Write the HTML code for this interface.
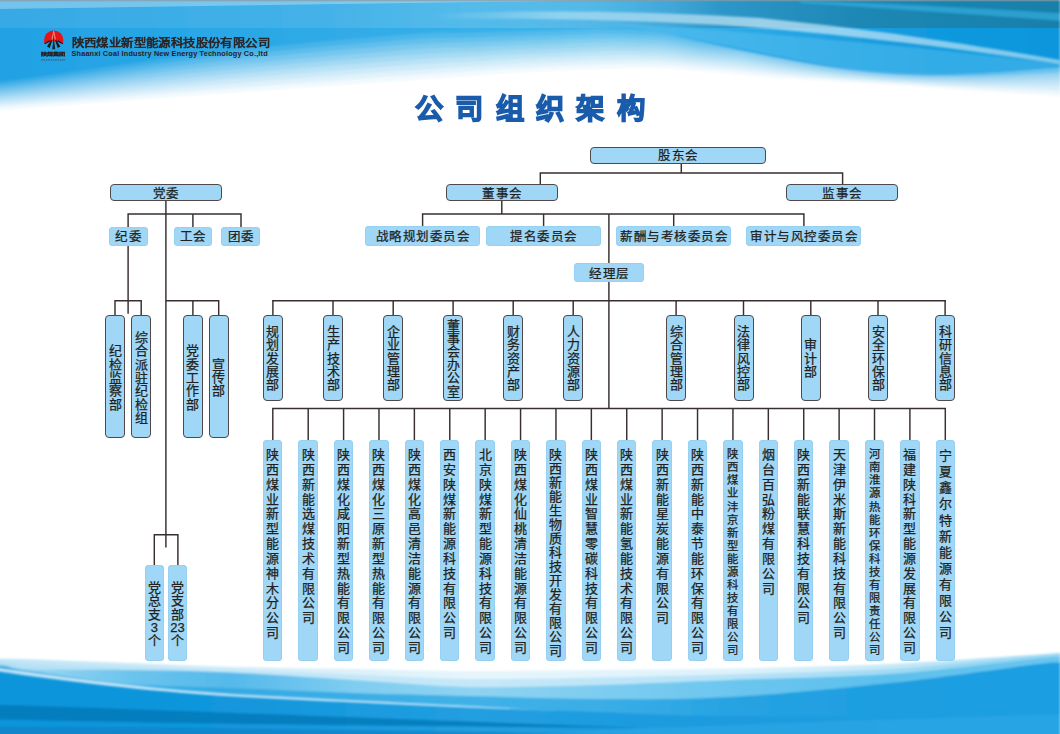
<!DOCTYPE html>
<html lang="zh-CN"><head><meta charset="utf-8"><title>公司组织架构</title>
<style>
html,body{margin:0;padding:0}
body{width:1060px;height:734px;position:relative;overflow:hidden;background:#fff;font-family:"Liberation Sans",sans-serif;color:#231f20}
.bg,.ln{position:absolute;left:0;top:0}
.bx{position:absolute;box-sizing:border-box;background:#a0d7f6;border-radius:4px;text-align:center;white-space:nowrap;overflow:hidden;box-shadow:inset 0 0 0 0.8px #93cff1}
.bx.b{box-shadow:none;border:1.5px solid #514949}
.bx i{font-style:normal;text-align:center;-webkit-text-stroke:0.25px #231f20}
.bx.v{white-space:normal}
.bx.v>div{line-height:0}
.bx.v i{display:inline-block;width:100%;vertical-align:top;overflow:hidden}
.bx.h i{display:inline-block;width:13.5px;vertical-align:top;position:relative;top:1.6px}
.bx.v.b>div{margin-top:-1.5px}
.bx.h.b{line-height:14.4px !important}
.title{position:absolute;left:0;top:91.5px;width:1060px;height:36px;line-height:36px;text-align:center;font-size:28px;color:#1a5cab;-webkit-text-stroke:2.3px #1a5cab;paint-order:stroke fill;white-space:nowrap;transform:scale(1.012,1)}
.title i{display:inline-block;width:39.8px;font-style:normal;text-align:center}
.cn{position:absolute;left:71.3px;top:34.9px;font-size:12.4px;-webkit-text-stroke:0.65px #2a2222;line-height:16px;color:#2a2222;white-space:nowrap;transform:scale(1,0.9);transform-origin:0 8.5px}
.cn i{display:inline-block;width:12.42px;font-style:normal;text-align:center}
.lg{position:absolute;left:41.2px;top:49.2px;width:49.2px;height:12px;line-height:12px;font-size:12.3px;letter-spacing:0;-webkit-text-stroke:1.3px #2a2222;color:#2a2222;white-space:nowrap;transform:scale(0.5,0.34);transform-origin:0 6px}
.en{position:absolute;left:71.5px;top:49px;font-size:7.3px;font-weight:bold;letter-spacing:0.17px;line-height:10px;color:#2a2222;white-space:nowrap}
</style></head><body>
<svg class="bg" width="1060" height="734" viewBox="0 0 1060 734">
<defs>
<filter id="f1" x="-5%" y="-20%" width="110%" height="140%"><feGaussianBlur stdDeviation="1"/></filter>
<linearGradient id="tD" gradientUnits="userSpaceOnUse" x1="0" y1="0" x2="1060" y2="0"><stop offset="0" stop-color="#22a2e4"/><stop offset="0.235849" stop-color="#2ba8e6"/><stop offset="0.424528" stop-color="#36afe8"/><stop offset="0.566038" stop-color="#40b4ea"/><stop offset="0.660377" stop-color="#34ade8"/><stop offset="0.735849" stop-color="#27a6e4"/><stop offset="0.849057" stop-color="#139ade"/><stop offset="1" stop-color="#0b96dc"/></linearGradient>
<linearGradient id="tT" gradientUnits="userSpaceOnUse" x1="0" y1="0" x2="1060" y2="0"><stop offset="0" stop-color="#c4dde9" stop-opacity="0.13"/><stop offset="0.311321" stop-color="#c9e2ee" stop-opacity="0.14"/><stop offset="0.424528" stop-color="#d5ecf3" stop-opacity="0.18"/><stop offset="0.528302" stop-color="#a9d3e2" stop-opacity="0.22"/><stop offset="0.603774" stop-color="#5fa9c9" stop-opacity="0.32"/><stop offset="0.679245" stop-color="#2a8ab5" stop-opacity="0.62"/><stop offset="0.801887" stop-color="#1f83ab" stop-opacity="0.8"/><stop offset="1" stop-color="#197ca3" stop-opacity="0.88"/></linearGradient>
<linearGradient id="bA" gradientUnits="userSpaceOnUse" x1="0" y1="0" x2="1060" y2="0"><stop offset="0" stop-color="#c0e5f7"/><stop offset="0.216981" stop-color="#d3ecf9"/><stop offset="0.443396" stop-color="#e6f5fc"/><stop offset="0.688679" stop-color="#def2fb"/><stop offset="0.839623" stop-color="#c5e8f8"/><stop offset="1" stop-color="#a5dcf5"/></linearGradient>
<linearGradient id="bAm" gradientUnits="userSpaceOnUse" x1="0" y1="0" x2="1060" y2="0"><stop offset="0" stop-color="#b4e0f5"/><stop offset="0.216981" stop-color="#c2e6f8"/><stop offset="0.443396" stop-color="#c5e8f8"/><stop offset="0.688679" stop-color="#b8e3f7"/><stop offset="0.839623" stop-color="#a0daf5"/><stop offset="1" stop-color="#8dd2f3"/></linearGradient>
<linearGradient id="bB" gradientUnits="userSpaceOnUse" x1="0" y1="0" x2="1060" y2="0"><stop offset="0" stop-color="#a8dcf4"/><stop offset="0.122642" stop-color="#6cc4ed"/><stop offset="0.216981" stop-color="#55b9ea"/><stop offset="0.333962" stop-color="#7fcdf1"/><stop offset="0.443396" stop-color="#8fd3f2"/><stop offset="0.688679" stop-color="#6cc6ef"/><stop offset="0.839623" stop-color="#5cc0ec"/><stop offset="1" stop-color="#6cc6ef"/></linearGradient>
<linearGradient id="bC" gradientUnits="userSpaceOnUse" x1="0" y1="0" x2="1060" y2="0"><stop offset="0" stop-color="#35aae4"/><stop offset="0.216981" stop-color="#35aae4"/><stop offset="0.443396" stop-color="#40b1e7"/><stop offset="0.566038" stop-color="#3aaee6"/><stop offset="0.688679" stop-color="#27a3e2"/><stop offset="0.839623" stop-color="#1d9ee1"/><stop offset="1" stop-color="#1a9ee2"/></linearGradient>
<linearGradient id="bD" gradientUnits="userSpaceOnUse" x1="0" y1="0" x2="1060" y2="0"><stop offset="0" stop-color="#0f95db"/><stop offset="0.216981" stop-color="#1296dc"/><stop offset="0.443396" stop-color="#229fe1"/><stop offset="0.688679" stop-color="#1a9bdf"/><stop offset="0.839623" stop-color="#1c9ee1"/><stop offset="1" stop-color="#1a9ee2"/></linearGradient>
<linearGradient id="tS" gradientUnits="userSpaceOnUse" x1="0" y1="0" x2="1060" y2="0"><stop offset="0.40566" stop-color="#d6eef9" stop-opacity="0"/><stop offset="0.528302" stop-color="#d6eef9" stop-opacity="0.45"/><stop offset="0.716981" stop-color="#cdeaf8" stop-opacity="0.7"/><stop offset="1" stop-color="#cdeaf8" stop-opacity="0.6"/></linearGradient>
<linearGradient id="tW" gradientUnits="userSpaceOnUse" x1="0" y1="0" x2="1060" y2="0"><stop offset="0.603774" stop-color="#ffffff" stop-opacity="0"/><stop offset="0.698113" stop-color="#ffffff" stop-opacity="0.42"/><stop offset="1" stop-color="#ffffff" stop-opacity="0.48"/></linearGradient>
</defs>
<g filter="url(#f1)">
<path d="M-5 -5H1065L1065 97C1064.2 97.0 1075.3 98.0 1060 97C1044.7 96.0 998.7 92.8 973 91C947.3 89.2 928.3 87.5 906 86C883.7 84.5 861.2 83.3 839 82C816.8 80.7 795.2 79.7 773 78C750.8 76.3 728.2 73.7 706 72C683.8 70.3 669.3 68.0 640 68C610.7 68.0 558.3 70.7 530 72C501.7 73.3 491.7 74.5 470 76C448.3 77.5 445.0 77.8 400 81C355.0 84.2 266.7 90.2 200 95C133.3 99.8 34.2 107.5 0 110C-34.2 112.5 -4.2 110.0 -5 110Z" fill="url(#tD)"/>
<path d="M-5 83C33.3 78.2 133.3 62.5 200 54.5C266.7 46.5 355.0 38.7 400 35.1C445.0 31.5 448.3 33.4 470 32.8C491.7 32.2 501.7 31.9 530 31.5C558.3 31.1 610.7 27.8 640 30.2C669.3 32.6 683.8 41.1 706 45.9C728.2 50.7 750.8 55.2 773 59.1C795.2 63.0 816.8 66.7 839 69.4C861.2 72.1 883.7 74.2 906 75.2C928.3 76.2 947.3 76.4 973 75.7C998.7 75.0 1045.5 71.7 1060 70.9L1065 70.9 V130 H-5Z" fill="#fff" fill-opacity="0.119"/>
<path d="M-5 86C33.3 81.5 133.3 66.6 200 59C266.7 51.4 355.0 43.8 400 40.2C445.0 36.6 448.3 38.3 470 37.6C491.7 36.9 501.7 36.5 530 36C558.3 35.5 610.7 32.3 640 34.4C669.3 36.5 683.8 44.3 706 48.8C728.2 53.3 750.8 57.5 773 61.2C795.2 64.9 816.8 68.3 839 70.8C861.2 73.3 883.7 75.3 906 76.4C928.3 77.5 947.3 77.8 973 77.4C998.7 77.0 1045.5 74.4 1060 73.8L1065 73.8 V130 H-5Z" fill="#fff" fill-opacity="0.132"/>
<path d="M-5 89C33.3 84.8 133.3 70.8 200 63.5C266.7 56.2 355.0 48.8 400 45.3C445.0 41.8 448.3 43.2 470 42.4C491.7 41.6 501.7 41.1 530 40.5C558.3 39.9 610.7 36.7 640 38.6C669.3 40.5 683.8 47.6 706 51.7C728.2 55.8 750.8 59.9 773 63.3C795.2 66.7 816.8 69.8 839 72.2C861.2 74.6 883.7 76.4 906 77.6C928.3 78.8 947.3 79.2 973 79.1C998.7 78.9 1045.5 77.1 1060 76.7L1065 76.7 V130 H-5Z" fill="#fff" fill-opacity="0.148"/>
<path d="M-5 92C33.3 88.0 133.3 74.9 200 68C266.7 61.1 355.0 53.9 400 50.4C445.0 46.9 448.3 48.1 470 47.2C491.7 46.3 501.7 45.7 530 45C558.3 44.3 610.7 41.2 640 42.8C669.3 44.4 683.8 50.8 706 54.6C728.2 58.4 750.8 62.2 773 65.4C795.2 68.6 816.8 71.4 839 73.6C861.2 75.8 883.7 77.6 906 78.8C928.3 80.0 947.3 80.7 973 80.8C998.7 80.9 1045.5 79.8 1060 79.6L1065 79.6 V130 H-5Z" fill="#fff" fill-opacity="0.169"/>
<path d="M-5 95C33.3 91.2 133.3 79.1 200 72.5C266.7 65.9 355.0 58.9 400 55.5C445.0 52.1 448.3 53.0 470 52C491.7 51.0 501.7 50.3 530 49.5C558.3 48.7 610.7 45.7 640 47C669.3 48.3 683.8 54.1 706 57.5C728.2 60.9 750.8 64.6 773 67.5C795.2 70.4 816.8 72.9 839 75C861.2 77.1 883.7 78.8 906 80C928.3 81.2 947.3 82.1 973 82.5C998.7 82.9 1045.5 82.5 1060 82.5L1065 82.5 V130 H-5Z" fill="#fff" fill-opacity="0.197"/>
<path d="M-5 98C33.3 94.5 133.3 83.2 200 77C266.7 70.8 355.0 64.0 400 60.6C445.0 57.2 448.3 57.9 470 56.8C491.7 55.7 501.7 54.9 530 54C558.3 53.1 610.7 50.1 640 51.2C669.3 52.3 683.8 57.3 706 60.4C728.2 63.5 750.8 66.9 773 69.6C795.2 72.3 816.8 74.5 839 76.4C861.2 78.3 883.7 79.9 906 81.2C928.3 82.5 947.3 83.5 973 84.2C998.7 84.9 1045.5 85.2 1060 85.4L1065 85.4 V130 H-5Z" fill="#fff" fill-opacity="0.235"/>
<path d="M-5 101C33.3 97.8 133.3 87.4 200 81.5C266.7 75.6 355.0 69.0 400 65.7C445.0 62.4 448.3 62.8 470 61.6C491.7 60.4 501.7 59.5 530 58.5C558.3 57.5 610.7 54.6 640 55.4C669.3 56.2 683.8 60.6 706 63.3C728.2 66.0 750.8 69.3 773 71.7C795.2 74.1 816.8 76.0 839 77.8C861.2 79.6 883.7 81.1 906 82.4C928.3 83.8 947.3 84.9 973 85.9C998.7 86.9 1045.5 87.9 1060 88.3L1065 88.3 V130 H-5Z" fill="#fff" fill-opacity="0.292"/>
<path d="M-5 104C33.3 101.0 133.3 91.5 200 86C266.7 80.5 355.0 74.1 400 70.8C445.0 67.5 448.3 67.7 470 66.4C491.7 65.1 501.7 64.1 530 63C558.3 61.9 610.7 59.1 640 59.6C669.3 60.1 683.8 63.8 706 66.2C728.2 68.6 750.8 71.6 773 73.8C795.2 76.0 816.8 77.6 839 79.2C861.2 80.8 883.7 82.2 906 83.6C928.3 85.0 947.3 86.3 973 87.6C998.7 88.9 1045.5 90.6 1060 91.2L1065 91.2 V130 H-5Z" fill="#fff" fill-opacity="0.385"/>
<path d="M-5 107C33.3 104.2 133.3 95.7 200 90.5C266.7 85.3 355.0 79.1 400 75.9C445.0 72.7 448.3 72.6 470 71.2C491.7 69.8 501.7 68.7 530 67.5C558.3 66.3 610.7 63.5 640 63.8C669.3 64.1 683.8 67.1 706 69.1C728.2 71.1 750.8 74.0 773 75.9C795.2 77.8 816.8 79.1 839 80.6C861.2 82.1 883.7 83.3 906 84.8C928.3 86.2 947.3 87.8 973 89.3C998.7 90.8 1045.5 93.3 1060 94.1L1065 94.1 V130 H-5Z" fill="#fff" fill-opacity="0.565"/>
<path d="M640 26C651.0 28.8 683.8 37.8 706 43C728.2 48.2 750.8 52.8 773 57C795.2 61.2 816.8 65.2 839 68C861.2 70.8 883.7 73.0 906 74C928.3 75.0 947.3 75.0 973 74C998.7 73.0 1040.5 69.3 1060 68C1079.5 66.7 1085.0 66.3 1090 66V130H640Z" fill="url(#tW)"/>
</g>
<rect x="0" y="0" width="1060" height="28" fill="url(#tT)"/>
<path d="M0 0H620L0 9Z" fill="#fff" fill-opacity="0.30"/>
<rect x="0" y="0" width="1060" height="1.3" fill="#8a9aa3" fill-opacity="0.7"/>
<g filter="url(#f1)">
<path d="M590 22 C700 28 800 36 940 50 L1090 67 L1090 70 C1000 77 930 77 870 72 C810 64 760 52 700 40 C660 32 630 26 590 22Z" fill="#58c0f0" fill-opacity="0.5"/>
<path d="M430 14 C560 8 700 14 760 18 C880 30 980 46 1060 60 L1060 64 C980 52 880 38 760 28 C660 20 540 18 430 19Z" fill="url(#tS)"/>
<path d="M800 1 C880 3 980 8 1090 15 L1090 23 C980 15 880 8 800 3Z" fill="#36b4e6" fill-opacity="0.6"/>
</g>
<g filter="url(#f1)">
<path d="M1090 760H-30L-30 658.7C-25.0 658.7 -10.0 658.6 0 658.7C10.0 658.8 8.3 658.6 30 659.3C51.7 660.0 96.7 661.8 130 663C163.3 664.2 192.7 665.7 230 666.7C267.3 667.7 314.0 668.3 354 669C394.0 669.7 429.0 670.8 470 671C511.0 671.2 556.7 670.4 600 670C643.3 669.6 681.7 669.5 730 668.5C778.3 667.5 840.0 666.2 890 664C940.0 661.8 1001.7 656.8 1030 655C1058.3 653.2 1050.0 653.3 1060 653C1070.0 652.7 1085.0 653.0 1090 653Z" fill="url(#bA)"/>
<path d="M1090 760H-30L-30 661.35C-25.0 661.4 -10.0 660.9 0 661.35C10.0 661.8 8.3 663.3 30 664.15C51.7 665.0 96.7 665.6 130 666.5C163.3 667.4 192.7 668.3 230 669.6C267.3 670.9 314.0 672.9 354 674.5C394.0 676.1 429.0 678.5 470 679C511.0 679.5 556.7 678.3 600 677.5C643.3 676.7 681.7 675.7 730 674.25C778.3 672.8 840.0 671.8 890 669C940.0 666.2 1001.7 659.6 1030 657.25C1058.3 654.9 1050.0 655.4 1060 655C1070.0 654.6 1085.0 655.0 1090 655Z" fill="url(#bAm)"/>
<path d="M1090 760H-30L-30 664C-25.0 664.0 -10.0 663.2 0 664C10.0 664.8 8.3 668.0 30 669C51.7 670.0 96.7 669.4 130 670C163.3 670.6 192.7 670.8 230 672.5C267.3 674.2 314.0 677.6 354 680C394.0 682.4 429.0 686.2 470 687C511.0 687.8 556.7 686.2 600 685C643.3 683.8 681.7 681.8 730 680C778.3 678.2 840.0 677.4 890 674C940.0 670.6 1001.7 662.3 1030 659.5C1058.3 656.7 1050.0 657.4 1060 657C1070.0 656.6 1085.0 657.0 1090 657Z" fill="url(#bB)"/>
<path d="M1090 760H-30L-30 665.5C-25.0 665.5 -10.0 664.6 0 665.5C10.0 666.4 8.3 667.9 30 671C51.7 674.1 96.7 681.2 130 684C163.3 686.8 192.7 686.5 230 688C267.3 689.5 314.0 691.7 354 693C394.0 694.3 429.0 695.0 470 696C511.0 697.0 556.7 698.8 600 699C643.3 699.2 681.7 699.7 730 697C778.3 694.3 840.0 688.3 890 683C940.0 677.7 1001.7 668.4 1030 665C1058.3 661.6 1050.0 662.9 1060 662.5C1070.0 662.1 1085.0 662.5 1090 662.5Z" fill="url(#bC)"/>
<path d="M1090 760H-30L-30 667C-25.0 667.0 -10.0 665.9 0 667C10.0 668.1 8.3 670.2 30 673.5C51.7 676.8 96.2 683.0 130 686.5C163.8 690.0 195.7 692.2 233 694.5C270.3 696.8 314.5 698.0 354 700C393.5 702.0 429.0 704.5 470 706.5C511.0 708.5 556.7 710.4 600 712C643.3 713.6 653.3 715.3 730 716C806.7 716.7 1000.0 716.0 1060 716C1120.0 716.0 1085.0 716.0 1090 716Z" fill="url(#bD)"/>
</g>
<g filter="url(#f1)">
<path d="M-30 704 C120 708 300 716 650 728 C300 726 120 722 -30 719Z" fill="#0878b8" fill-opacity="0.8"/>
<path d="M-30 727 C200 728 400 730 700 736 L700 760 H-30Z" fill="#0a7fc4" fill-opacity="0.7"/>
<path d="M420 742 C600 727 900 719 1090 713 V760 H420Z" fill="#3aaee8" fill-opacity="0.35"/>
<path d="M-30 663 C40 674 130 687 233 694 C330 699 420 703 560 711 C420 705.5 330 701.5 233 696.5 C130 690 40 678 -30 667Z" fill="#e8f6fd" fill-opacity="0.8"/>
</g>
<rect x="1058.7" y="0" width="1.3" height="734" fill="#fff" fill-opacity="0.22"/>
</svg>
<svg class="logo" style="position:absolute;left:38px;top:26px" width="32" height="38" viewBox="38 26 32 38">
<defs><clipPath id="lc"><path d="M42 28H66V43.8L60.5 42.6 57 41.6 53.7 41.2 50.5 41.6 47 42.6 42 43.8Z"/></clipPath></defs>
<circle cx="53.7" cy="40.1" r="9.7" fill="#e5141a" clip-path="url(#lc)"/>
<path d="M53.4 30.6L51.2 40.5 52.4 40.8 53.7 33 55 40.8 56.2 40.5 54 30.6Z" fill="#ef8f7c"/>
<path d="M49.4 40.2L44.2 43.2 44.9 44.3 50 41.6ZM58 40.2L63.2 43.2 62.5 44.3 57.4 41.6Z" fill="#1d1a1a"/>
<path d="M51.6 39.2L47 46.4 49.7 47.9 52.4 40ZM55.8 39.2L60.4 46.4 57.7 47.9 55 40ZM53.7 37.5L52.2 49.3H55.2Z" fill="#1d1a1a"/>
<path d="M41.2 59.9H65.2" stroke="#4a4a55" stroke-width="1.3" stroke-dasharray="1.6 0.7" fill="none" opacity="0.75"/>
</svg>
<div class="lg">陕煤集团</div>

<div class="cn"><i>陕</i><i>西</i><i>煤</i><i>业</i><i>新</i><i>型</i><i>能</i><i>源</i><i>科</i><i>技</i><i>股</i><i>份</i><i>有</i><i>限</i><i>公</i><i>司</i></div>
<div class="en">Shaanxi Coal Industry New Energy Technology Co.,ltd</div>
<div class="title"><i>公</i><i>司</i><i>组</i><i>织</i><i>架</i><i>构</i></div>
<svg class="ln" width="1060" height="734" viewBox="0 0 1060 734"><path d="M165.9 201V546.8M128.1 214H241M128.1 214V227M192.9 214V227M241 214V227M128.1 246V313M115 300.8H141.2M115 300.8V315M141.2 300.8V315M165.9 300.8H218.7M192.9 300.8V315M218.7 300.8V315M154.3 534.7H177.9M154.3 534.7V565M177.9 534.7V565M681.3 163V173M540.3 173H842.6M540.3 173V185M842.6 173V185M501.8 201V214M422.6 214H803.9M422.6 214V227M543.6 214V227M673.7 214V227M803.9 214V227M608.9 214V408.5M272.8 300.8H945.3M272.9 300.8V316M333 300.8V316M393.2 300.8V316M453.1 300.8V316M513.2 300.8V316M573.2 300.8V316M676.1 300.8V316M743.5 300.8V316M810.8 300.8V316M878 300.8V316M945.1 300.8V316M272.8 408.5H945.3M272.8 408.5V440M308.195 408.5V440M343.589 408.5V440M378.984 408.5V440M414.379 408.5V440M449.774 408.5V440M485.168 408.5V440M520.563 408.5V440M555.958 408.5V440M591.353 408.5V440M626.747 408.5V440M662.142 408.5V440M697.537 408.5V440M732.932 408.5V440M768.326 408.5V440M803.721 408.5V440M839.116 408.5V440M874.511 408.5V440M909.905 408.5V440M945.3 408.5V440" fill="none" stroke="#382f2f" stroke-width="1.45" stroke-linecap="square"/></svg>
<div class="bx h b" style="left:110px;top:184.3px;width:112px;height:17.2px;line-height:17.2px;font-size:12.5px"><i>党</i><i>委</i></div>
<div class="bx h" style="left:109px;top:226.6px;width:39px;height:19.4px;line-height:19.4px;font-size:12.5px"><i>纪</i><i>委</i></div>
<div class="bx h" style="left:173.5px;top:226.6px;width:38.5px;height:19.4px;line-height:19.4px;font-size:12.5px"><i>工</i><i>会</i></div>
<div class="bx h" style="left:221.4px;top:226.6px;width:38.8px;height:19.4px;line-height:19.4px;font-size:12.5px"><i>团</i><i>委</i></div>
<div class="bx h b" style="left:590.4px;top:146.6px;width:175.4px;height:17.2px;line-height:17.2px;font-size:12.5px"><i>股</i><i>东</i><i>会</i></div>
<div class="bx h b" style="left:446.2px;top:184.3px;width:112px;height:17.2px;line-height:17.2px;font-size:12.5px"><i>董</i><i>事</i><i>会</i></div>
<div class="bx h b" style="left:786.4px;top:184.3px;width:112px;height:17.2px;line-height:17.2px;font-size:12.5px"><i>监</i><i>事</i><i>会</i></div>
<div class="bx h" style="left:365.2px;top:226.4px;width:114.8px;height:19.4px;line-height:19.4px;font-size:12.5px"><i>战</i><i>略</i><i>规</i><i>划</i><i>委</i><i>员</i><i>会</i></div>
<div class="bx h" style="left:486.2px;top:226.4px;width:115.2px;height:19.4px;line-height:19.4px;font-size:12.5px"><i>提</i><i>名</i><i>委</i><i>员</i><i>会</i></div>
<div class="bx h" style="left:616.2px;top:226.4px;width:115.2px;height:19.4px;line-height:19.4px;font-size:12.5px"><i>薪</i><i>酬</i><i>与</i><i>考</i><i>核</i><i>委</i><i>员</i><i>会</i></div>
<div class="bx h" style="left:746.2px;top:226.4px;width:115.2px;height:19.4px;line-height:19.4px;font-size:12.5px"><i>审</i><i>计</i><i>与</i><i>风</i><i>控</i><i>委</i><i>员</i><i>会</i></div>
<div class="bx h" style="left:574.4px;top:263.1px;width:69.6px;height:19.4px;line-height:19.4px;font-size:12.5px"><i>经</i><i>理</i><i>层</i></div>
<div class="bx v b" style="left:105.2px;top:314.6px;width:19.8px;height:123.2px;font-size:13px"><div style="padding-top:30.1px"><i style="height:13.4px;line-height:13.4px">纪</i><i style="height:13.4px;line-height:13.4px">检</i><i style="height:13.4px;line-height:13.4px">监</i><i style="height:13.4px;line-height:13.4px">察</i><i style="height:13.4px;line-height:13.4px">部</i></div></div>
<div class="bx v b" style="left:131.3px;top:314.6px;width:19.8px;height:123.2px;font-size:13px"><div style="padding-top:16.7px"><i style="height:13.4px;line-height:13.4px">综</i><i style="height:13.4px;line-height:13.4px">合</i><i style="height:13.4px;line-height:13.4px">派</i><i style="height:13.4px;line-height:13.4px">驻</i><i style="height:13.4px;line-height:13.4px">纪</i><i style="height:13.4px;line-height:13.4px">检</i><i style="height:13.4px;line-height:13.4px">组</i></div></div>
<div class="bx v b" style="left:183px;top:314.6px;width:19.8px;height:123.2px;font-size:13px"><div style="padding-top:30.1px"><i style="height:13.4px;line-height:13.4px">党</i><i style="height:13.4px;line-height:13.4px">委</i><i style="height:13.4px;line-height:13.4px">工</i><i style="height:13.4px;line-height:13.4px">作</i><i style="height:13.4px;line-height:13.4px">部</i></div></div>
<div class="bx v b" style="left:209px;top:314.6px;width:19.8px;height:123.2px;font-size:13px"><div style="padding-top:43.5px"><i style="height:13.4px;line-height:13.4px">宣</i><i style="height:13.4px;line-height:13.4px">传</i><i style="height:13.4px;line-height:13.4px">部</i></div></div>
<div class="bx v" style="left:144.8px;top:564.8px;width:19px;height:95.8px;font-size:13px"><div style="padding-top:16.15px"><i style="height:13.3px;line-height:13.3px">党</i><i style="height:13.3px;line-height:13.3px">总</i><i style="height:13.3px;line-height:13.3px">支</i><i style="height:13.3px;line-height:13.3px">3</i><i style="height:13.3px;line-height:13.3px">个</i></div></div>
<div class="bx v" style="left:167.9px;top:564.8px;width:19px;height:95.8px;font-size:13px"><div style="padding-top:16.15px"><i style="height:13.3px;line-height:13.3px">党</i><i style="height:13.3px;line-height:13.3px">支</i><i style="height:13.3px;line-height:13.3px">部</i><i style="height:13.3px;line-height:13.3px">23</i><i style="height:13.3px;line-height:13.3px">个</i></div></div>
<div class="bx v b" style="left:262.9px;top:315.3px;width:20px;height:85.3px;font-size:13px"><div style="padding-top:9.95px"><i style="height:13.4px;line-height:13.4px">规</i><i style="height:13.4px;line-height:13.4px">划</i><i style="height:13.4px;line-height:13.4px">发</i><i style="height:13.4px;line-height:13.4px">展</i><i style="height:13.4px;line-height:13.4px">部</i></div></div>
<div class="bx v b" style="left:323px;top:315.3px;width:20px;height:85.3px;font-size:13px"><div style="padding-top:9.95px"><i style="height:13.4px;line-height:13.4px">生</i><i style="height:13.4px;line-height:13.4px">产</i><i style="height:13.4px;line-height:13.4px">技</i><i style="height:13.4px;line-height:13.4px">术</i><i style="height:13.4px;line-height:13.4px">部</i></div></div>
<div class="bx v b" style="left:383.2px;top:315.3px;width:20px;height:85.3px;font-size:13px"><div style="padding-top:9.95px"><i style="height:13.4px;line-height:13.4px">企</i><i style="height:13.4px;line-height:13.4px">业</i><i style="height:13.4px;line-height:13.4px">管</i><i style="height:13.4px;line-height:13.4px">理</i><i style="height:13.4px;line-height:13.4px">部</i></div></div>
<div class="bx v b" style="left:443.1px;top:315.3px;width:20px;height:85.3px;font-size:13px"><div style="padding-top:3.85px"><i style="height:13.2px;line-height:13.2px">董</i><i style="height:13.2px;line-height:13.2px">事</i><i style="height:13.2px;line-height:13.2px">会</i><i style="height:13.2px;line-height:13.2px">办</i><i style="height:13.2px;line-height:13.2px">公</i><i style="height:13.2px;line-height:13.2px">室</i></div></div>
<div class="bx v b" style="left:503.2px;top:315.3px;width:20px;height:85.3px;font-size:13px"><div style="padding-top:9.95px"><i style="height:13.4px;line-height:13.4px">财</i><i style="height:13.4px;line-height:13.4px">务</i><i style="height:13.4px;line-height:13.4px">资</i><i style="height:13.4px;line-height:13.4px">产</i><i style="height:13.4px;line-height:13.4px">部</i></div></div>
<div class="bx v b" style="left:563.2px;top:315.3px;width:20px;height:85.3px;font-size:13px"><div style="padding-top:9.95px"><i style="height:13.4px;line-height:13.4px">人</i><i style="height:13.4px;line-height:13.4px">力</i><i style="height:13.4px;line-height:13.4px">资</i><i style="height:13.4px;line-height:13.4px">源</i><i style="height:13.4px;line-height:13.4px">部</i></div></div>
<div class="bx v b" style="left:666.1px;top:315.3px;width:20px;height:85.3px;font-size:13px"><div style="padding-top:9.95px"><i style="height:13.4px;line-height:13.4px">综</i><i style="height:13.4px;line-height:13.4px">合</i><i style="height:13.4px;line-height:13.4px">管</i><i style="height:13.4px;line-height:13.4px">理</i><i style="height:13.4px;line-height:13.4px">部</i></div></div>
<div class="bx v b" style="left:733.5px;top:315.3px;width:20px;height:85.3px;font-size:13px"><div style="padding-top:9.95px"><i style="height:13.4px;line-height:13.4px">法</i><i style="height:13.4px;line-height:13.4px">律</i><i style="height:13.4px;line-height:13.4px">风</i><i style="height:13.4px;line-height:13.4px">控</i><i style="height:13.4px;line-height:13.4px">部</i></div></div>
<div class="bx v b" style="left:800.8px;top:315.3px;width:20px;height:85.3px;font-size:13px"><div style="padding-top:23.35px"><i style="height:13.4px;line-height:13.4px">审</i><i style="height:13.4px;line-height:13.4px">计</i><i style="height:13.4px;line-height:13.4px">部</i></div></div>
<div class="bx v b" style="left:868px;top:315.3px;width:20px;height:85.3px;font-size:13px"><div style="padding-top:9.95px"><i style="height:13.4px;line-height:13.4px">安</i><i style="height:13.4px;line-height:13.4px">全</i><i style="height:13.4px;line-height:13.4px">环</i><i style="height:13.4px;line-height:13.4px">保</i><i style="height:13.4px;line-height:13.4px">部</i></div></div>
<div class="bx v b" style="left:935.1px;top:315.3px;width:20px;height:85.3px;font-size:13px"><div style="padding-top:9.95px"><i style="height:13.4px;line-height:13.4px">科</i><i style="height:13.4px;line-height:13.4px">研</i><i style="height:13.4px;line-height:13.4px">信</i><i style="height:13.4px;line-height:13.4px">息</i><i style="height:13.4px;line-height:13.4px">部</i></div></div>
<div class="bx v" style="left:263.1px;top:439.6px;width:19.4px;height:221.4px;font-size:13px"><div style="padding-top:8.6px"><i style="height:14.82px;line-height:14.82px">陕</i><i style="height:14.82px;line-height:14.82px">西</i><i style="height:14.82px;line-height:14.82px">煤</i><i style="height:14.82px;line-height:14.82px">业</i><i style="height:14.82px;line-height:14.82px">新</i><i style="height:14.82px;line-height:14.82px">型</i><i style="height:14.82px;line-height:14.82px">能</i><i style="height:14.82px;line-height:14.82px">源</i><i style="height:14.82px;line-height:14.82px">神</i><i style="height:14.82px;line-height:14.82px">木</i><i style="height:14.82px;line-height:14.82px">分</i><i style="height:14.82px;line-height:14.82px">公</i><i style="height:14.82px;line-height:14.82px">司</i></div></div>
<div class="bx v" style="left:298.495px;top:439.6px;width:19.4px;height:221.4px;font-size:13px"><div style="padding-top:8.6px"><i style="height:14.82px;line-height:14.82px">陕</i><i style="height:14.82px;line-height:14.82px">西</i><i style="height:14.82px;line-height:14.82px">新</i><i style="height:14.82px;line-height:14.82px">能</i><i style="height:14.82px;line-height:14.82px">选</i><i style="height:14.82px;line-height:14.82px">煤</i><i style="height:14.82px;line-height:14.82px">技</i><i style="height:14.82px;line-height:14.82px">术</i><i style="height:14.82px;line-height:14.82px">有</i><i style="height:14.82px;line-height:14.82px">限</i><i style="height:14.82px;line-height:14.82px">公</i><i style="height:14.82px;line-height:14.82px">司</i></div></div>
<div class="bx v" style="left:333.889px;top:439.6px;width:19.4px;height:221.4px;font-size:13px"><div style="padding-top:8.6px"><i style="height:14.82px;line-height:14.82px">陕</i><i style="height:14.82px;line-height:14.82px">西</i><i style="height:14.82px;line-height:14.82px">煤</i><i style="height:14.82px;line-height:14.82px">化</i><i style="height:14.82px;line-height:14.82px">咸</i><i style="height:14.82px;line-height:14.82px">阳</i><i style="height:14.82px;line-height:14.82px">新</i><i style="height:14.82px;line-height:14.82px">型</i><i style="height:14.82px;line-height:14.82px">热</i><i style="height:14.82px;line-height:14.82px">能</i><i style="height:14.82px;line-height:14.82px">有</i><i style="height:14.82px;line-height:14.82px">限</i><i style="height:14.82px;line-height:14.82px">公</i><i style="height:14.82px;line-height:14.82px">司</i></div></div>
<div class="bx v" style="left:369.284px;top:439.6px;width:19.4px;height:221.4px;font-size:13px"><div style="padding-top:8.6px"><i style="height:14.82px;line-height:14.82px">陕</i><i style="height:14.82px;line-height:14.82px">西</i><i style="height:14.82px;line-height:14.82px">煤</i><i style="height:14.82px;line-height:14.82px">化</i><i style="height:14.82px;line-height:14.82px">三</i><i style="height:14.82px;line-height:14.82px">原</i><i style="height:14.82px;line-height:14.82px">新</i><i style="height:14.82px;line-height:14.82px">型</i><i style="height:14.82px;line-height:14.82px">热</i><i style="height:14.82px;line-height:14.82px">能</i><i style="height:14.82px;line-height:14.82px">有</i><i style="height:14.82px;line-height:14.82px">限</i><i style="height:14.82px;line-height:14.82px">公</i><i style="height:14.82px;line-height:14.82px">司</i></div></div>
<div class="bx v" style="left:404.679px;top:439.6px;width:19.4px;height:221.4px;font-size:13px"><div style="padding-top:8.6px"><i style="height:14.82px;line-height:14.82px">陕</i><i style="height:14.82px;line-height:14.82px">西</i><i style="height:14.82px;line-height:14.82px">煤</i><i style="height:14.82px;line-height:14.82px">化</i><i style="height:14.82px;line-height:14.82px">高</i><i style="height:14.82px;line-height:14.82px">邑</i><i style="height:14.82px;line-height:14.82px">清</i><i style="height:14.82px;line-height:14.82px">洁</i><i style="height:14.82px;line-height:14.82px">能</i><i style="height:14.82px;line-height:14.82px">源</i><i style="height:14.82px;line-height:14.82px">有</i><i style="height:14.82px;line-height:14.82px">限</i><i style="height:14.82px;line-height:14.82px">公</i><i style="height:14.82px;line-height:14.82px">司</i></div></div>
<div class="bx v" style="left:440.074px;top:439.6px;width:19.4px;height:221.4px;font-size:13px"><div style="padding-top:8.6px"><i style="height:14.82px;line-height:14.82px">西</i><i style="height:14.82px;line-height:14.82px">安</i><i style="height:14.82px;line-height:14.82px">陕</i><i style="height:14.82px;line-height:14.82px">煤</i><i style="height:14.82px;line-height:14.82px">新</i><i style="height:14.82px;line-height:14.82px">能</i><i style="height:14.82px;line-height:14.82px">源</i><i style="height:14.82px;line-height:14.82px">科</i><i style="height:14.82px;line-height:14.82px">技</i><i style="height:14.82px;line-height:14.82px">有</i><i style="height:14.82px;line-height:14.82px">限</i><i style="height:14.82px;line-height:14.82px">公</i><i style="height:14.82px;line-height:14.82px">司</i></div></div>
<div class="bx v" style="left:475.468px;top:439.6px;width:19.4px;height:221.4px;font-size:13px"><div style="padding-top:8.6px"><i style="height:14.82px;line-height:14.82px">北</i><i style="height:14.82px;line-height:14.82px">京</i><i style="height:14.82px;line-height:14.82px">陕</i><i style="height:14.82px;line-height:14.82px">煤</i><i style="height:14.82px;line-height:14.82px">新</i><i style="height:14.82px;line-height:14.82px">型</i><i style="height:14.82px;line-height:14.82px">能</i><i style="height:14.82px;line-height:14.82px">源</i><i style="height:14.82px;line-height:14.82px">科</i><i style="height:14.82px;line-height:14.82px">技</i><i style="height:14.82px;line-height:14.82px">有</i><i style="height:14.82px;line-height:14.82px">限</i><i style="height:14.82px;line-height:14.82px">公</i><i style="height:14.82px;line-height:14.82px">司</i></div></div>
<div class="bx v" style="left:510.863px;top:439.6px;width:19.4px;height:221.4px;font-size:13px"><div style="padding-top:8.6px"><i style="height:14.82px;line-height:14.82px">陕</i><i style="height:14.82px;line-height:14.82px">西</i><i style="height:14.82px;line-height:14.82px">煤</i><i style="height:14.82px;line-height:14.82px">化</i><i style="height:14.82px;line-height:14.82px">仙</i><i style="height:14.82px;line-height:14.82px">桃</i><i style="height:14.82px;line-height:14.82px">清</i><i style="height:14.82px;line-height:14.82px">洁</i><i style="height:14.82px;line-height:14.82px">能</i><i style="height:14.82px;line-height:14.82px">源</i><i style="height:14.82px;line-height:14.82px">有</i><i style="height:14.82px;line-height:14.82px">限</i><i style="height:14.82px;line-height:14.82px">公</i><i style="height:14.82px;line-height:14.82px">司</i></div></div>
<div class="bx v" style="left:546.258px;top:439.6px;width:19.4px;height:221.4px;font-size:13px"><div style="padding-top:8.6px"><i style="height:13.98px;line-height:13.98px">陕</i><i style="height:13.98px;line-height:13.98px">西</i><i style="height:13.98px;line-height:13.98px">新</i><i style="height:13.98px;line-height:13.98px">能</i><i style="height:13.98px;line-height:13.98px">生</i><i style="height:13.98px;line-height:13.98px">物</i><i style="height:13.98px;line-height:13.98px">质</i><i style="height:13.98px;line-height:13.98px">科</i><i style="height:13.98px;line-height:13.98px">技</i><i style="height:13.98px;line-height:13.98px">开</i><i style="height:13.98px;line-height:13.98px">发</i><i style="height:13.98px;line-height:13.98px">有</i><i style="height:13.98px;line-height:13.98px">限</i><i style="height:13.98px;line-height:13.98px">公</i><i style="height:13.98px;line-height:13.98px">司</i></div></div>
<div class="bx v" style="left:581.653px;top:439.6px;width:19.4px;height:221.4px;font-size:13px"><div style="padding-top:8.6px"><i style="height:14.82px;line-height:14.82px">陕</i><i style="height:14.82px;line-height:14.82px">西</i><i style="height:14.82px;line-height:14.82px">煤</i><i style="height:14.82px;line-height:14.82px">业</i><i style="height:14.82px;line-height:14.82px">智</i><i style="height:14.82px;line-height:14.82px">慧</i><i style="height:14.82px;line-height:14.82px">零</i><i style="height:14.82px;line-height:14.82px">碳</i><i style="height:14.82px;line-height:14.82px">科</i><i style="height:14.82px;line-height:14.82px">技</i><i style="height:14.82px;line-height:14.82px">有</i><i style="height:14.82px;line-height:14.82px">限</i><i style="height:14.82px;line-height:14.82px">公</i><i style="height:14.82px;line-height:14.82px">司</i></div></div>
<div class="bx v" style="left:617.047px;top:439.6px;width:19.4px;height:221.4px;font-size:13px"><div style="padding-top:8.6px"><i style="height:14.82px;line-height:14.82px">陕</i><i style="height:14.82px;line-height:14.82px">西</i><i style="height:14.82px;line-height:14.82px">煤</i><i style="height:14.82px;line-height:14.82px">业</i><i style="height:14.82px;line-height:14.82px">新</i><i style="height:14.82px;line-height:14.82px">能</i><i style="height:14.82px;line-height:14.82px">氢</i><i style="height:14.82px;line-height:14.82px">能</i><i style="height:14.82px;line-height:14.82px">技</i><i style="height:14.82px;line-height:14.82px">术</i><i style="height:14.82px;line-height:14.82px">有</i><i style="height:14.82px;line-height:14.82px">限</i><i style="height:14.82px;line-height:14.82px">公</i><i style="height:14.82px;line-height:14.82px">司</i></div></div>
<div class="bx v" style="left:652.442px;top:439.6px;width:19.4px;height:221.4px;font-size:13px"><div style="padding-top:8.6px"><i style="height:14.82px;line-height:14.82px">陕</i><i style="height:14.82px;line-height:14.82px">西</i><i style="height:14.82px;line-height:14.82px">新</i><i style="height:14.82px;line-height:14.82px">能</i><i style="height:14.82px;line-height:14.82px">星</i><i style="height:14.82px;line-height:14.82px">炭</i><i style="height:14.82px;line-height:14.82px">能</i><i style="height:14.82px;line-height:14.82px">源</i><i style="height:14.82px;line-height:14.82px">有</i><i style="height:14.82px;line-height:14.82px">限</i><i style="height:14.82px;line-height:14.82px">公</i><i style="height:14.82px;line-height:14.82px">司</i></div></div>
<div class="bx v" style="left:687.837px;top:439.6px;width:19.4px;height:221.4px;font-size:13px"><div style="padding-top:8.6px"><i style="height:14.82px;line-height:14.82px">陕</i><i style="height:14.82px;line-height:14.82px">西</i><i style="height:14.82px;line-height:14.82px">新</i><i style="height:14.82px;line-height:14.82px">能</i><i style="height:14.82px;line-height:14.82px">中</i><i style="height:14.82px;line-height:14.82px">泰</i><i style="height:14.82px;line-height:14.82px">节</i><i style="height:14.82px;line-height:14.82px">能</i><i style="height:14.82px;line-height:14.82px">环</i><i style="height:14.82px;line-height:14.82px">保</i><i style="height:14.82px;line-height:14.82px">有</i><i style="height:14.82px;line-height:14.82px">限</i><i style="height:14.82px;line-height:14.82px">公</i><i style="height:14.82px;line-height:14.82px">司</i></div></div>
<div class="bx v" style="left:723.232px;top:439.6px;width:19.4px;height:221.4px;font-size:11.4px"><div style="padding-top:8.6px"><i style="height:13.09px;line-height:13.09px">陕</i><i style="height:13.09px;line-height:13.09px">西</i><i style="height:13.09px;line-height:13.09px">煤</i><i style="height:13.09px;line-height:13.09px">业</i><i style="height:13.09px;line-height:13.09px">沣</i><i style="height:13.09px;line-height:13.09px">京</i><i style="height:13.09px;line-height:13.09px">新</i><i style="height:13.09px;line-height:13.09px">型</i><i style="height:13.09px;line-height:13.09px">能</i><i style="height:13.09px;line-height:13.09px">源</i><i style="height:13.09px;line-height:13.09px">科</i><i style="height:13.09px;line-height:13.09px">技</i><i style="height:13.09px;line-height:13.09px">有</i><i style="height:13.09px;line-height:13.09px">限</i><i style="height:13.09px;line-height:13.09px">公</i><i style="height:13.09px;line-height:13.09px">司</i></div></div>
<div class="bx v" style="left:758.626px;top:439.6px;width:19.4px;height:221.4px;font-size:13px"><div style="padding-top:8.6px"><i style="height:14.82px;line-height:14.82px">烟</i><i style="height:14.82px;line-height:14.82px">台</i><i style="height:14.82px;line-height:14.82px">百</i><i style="height:14.82px;line-height:14.82px">弘</i><i style="height:14.82px;line-height:14.82px">粉</i><i style="height:14.82px;line-height:14.82px">煤</i><i style="height:14.82px;line-height:14.82px">有</i><i style="height:14.82px;line-height:14.82px">限</i><i style="height:14.82px;line-height:14.82px">公</i><i style="height:14.82px;line-height:14.82px">司</i></div></div>
<div class="bx v" style="left:794.021px;top:439.6px;width:19.4px;height:221.4px;font-size:13px"><div style="padding-top:8.6px"><i style="height:14.82px;line-height:14.82px">陕</i><i style="height:14.82px;line-height:14.82px">西</i><i style="height:14.82px;line-height:14.82px">新</i><i style="height:14.82px;line-height:14.82px">能</i><i style="height:14.82px;line-height:14.82px">联</i><i style="height:14.82px;line-height:14.82px">慧</i><i style="height:14.82px;line-height:14.82px">科</i><i style="height:14.82px;line-height:14.82px">技</i><i style="height:14.82px;line-height:14.82px">有</i><i style="height:14.82px;line-height:14.82px">限</i><i style="height:14.82px;line-height:14.82px">公</i><i style="height:14.82px;line-height:14.82px">司</i></div></div>
<div class="bx v" style="left:829.416px;top:439.6px;width:19.4px;height:221.4px;font-size:13px"><div style="padding-top:8.6px"><i style="height:14.82px;line-height:14.82px">天</i><i style="height:14.82px;line-height:14.82px">津</i><i style="height:14.82px;line-height:14.82px">伊</i><i style="height:14.82px;line-height:14.82px">米</i><i style="height:14.82px;line-height:14.82px">斯</i><i style="height:14.82px;line-height:14.82px">新</i><i style="height:14.82px;line-height:14.82px">能</i><i style="height:14.82px;line-height:14.82px">科</i><i style="height:14.82px;line-height:14.82px">技</i><i style="height:14.82px;line-height:14.82px">有</i><i style="height:14.82px;line-height:14.82px">限</i><i style="height:14.82px;line-height:14.82px">公</i><i style="height:14.82px;line-height:14.82px">司</i></div></div>
<div class="bx v" style="left:864.811px;top:439.6px;width:19.4px;height:221.4px;font-size:11.4px"><div style="padding-top:8.6px"><i style="height:13.09px;line-height:13.09px">河</i><i style="height:13.09px;line-height:13.09px">南</i><i style="height:13.09px;line-height:13.09px">淮</i><i style="height:13.09px;line-height:13.09px">源</i><i style="height:13.09px;line-height:13.09px">热</i><i style="height:13.09px;line-height:13.09px">能</i><i style="height:13.09px;line-height:13.09px">环</i><i style="height:13.09px;line-height:13.09px">保</i><i style="height:13.09px;line-height:13.09px">科</i><i style="height:13.09px;line-height:13.09px">技</i><i style="height:13.09px;line-height:13.09px">有</i><i style="height:13.09px;line-height:13.09px">限</i><i style="height:13.09px;line-height:13.09px">责</i><i style="height:13.09px;line-height:13.09px">任</i><i style="height:13.09px;line-height:13.09px">公</i><i style="height:13.09px;line-height:13.09px">司</i></div></div>
<div class="bx v" style="left:900.205px;top:439.6px;width:19.4px;height:221.4px;font-size:13px"><div style="padding-top:8.6px"><i style="height:14.82px;line-height:14.82px">福</i><i style="height:14.82px;line-height:14.82px">建</i><i style="height:14.82px;line-height:14.82px">陕</i><i style="height:14.82px;line-height:14.82px">科</i><i style="height:14.82px;line-height:14.82px">新</i><i style="height:14.82px;line-height:14.82px">型</i><i style="height:14.82px;line-height:14.82px">能</i><i style="height:14.82px;line-height:14.82px">源</i><i style="height:14.82px;line-height:14.82px">发</i><i style="height:14.82px;line-height:14.82px">展</i><i style="height:14.82px;line-height:14.82px">有</i><i style="height:14.82px;line-height:14.82px">限</i><i style="height:14.82px;line-height:14.82px">公</i><i style="height:14.82px;line-height:14.82px">司</i></div></div>
<div class="bx v" style="left:935.6px;top:439.6px;width:19.4px;height:221.4px;font-size:13px"><div style="padding-top:8.6px"><i style="height:16.09px;line-height:16.09px">宁</i><i style="height:16.09px;line-height:16.09px">夏</i><i style="height:16.09px;line-height:16.09px">鑫</i><i style="height:16.09px;line-height:16.09px">尔</i><i style="height:16.09px;line-height:16.09px">特</i><i style="height:16.09px;line-height:16.09px">新</i><i style="height:16.09px;line-height:16.09px">能</i><i style="height:16.09px;line-height:16.09px">源</i><i style="height:16.09px;line-height:16.09px">有</i><i style="height:16.09px;line-height:16.09px">限</i><i style="height:16.09px;line-height:16.09px">公</i><i style="height:16.09px;line-height:16.09px">司</i></div></div>

</body></html>
